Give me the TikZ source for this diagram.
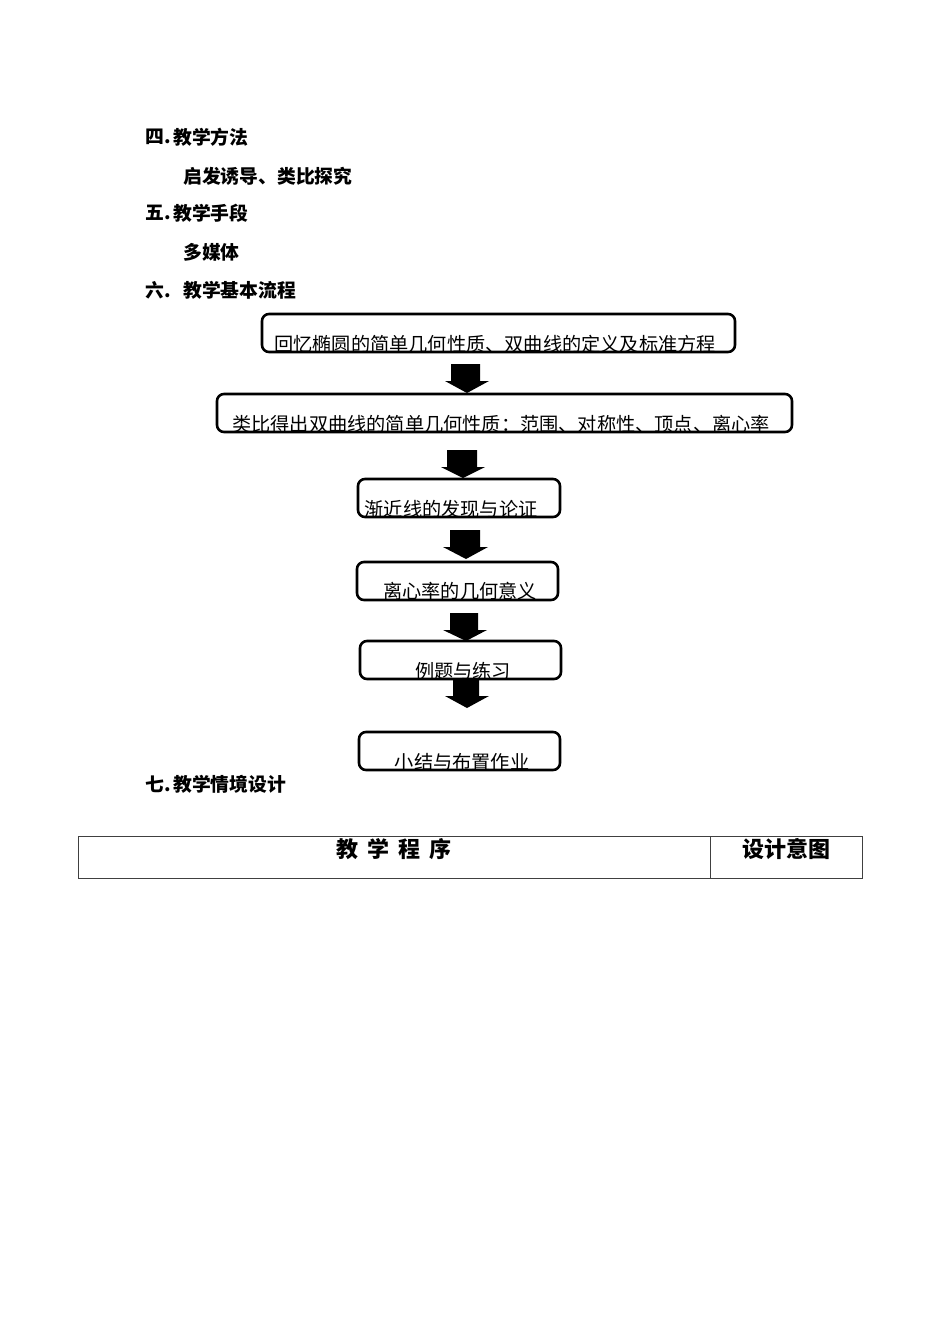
\documentclass[tikz,border=0pt]{standalone}
\usepackage{fontspec}
\newfontfamily\hei{Noto Sans CJK SC}
\tikzset{
  heading/.style={anchor=west, inner sep=0pt, font=\hei\bfseries\fontsize{18.8}{19}\selectfont},
  boxshape/.style={draw, line width=2.6pt, rounded corners=7pt, inner sep=0pt},
  boxtext/.style={inner sep=0pt, font=\hei\fontsize{19.2}{20}\selectfont},
  blockarrow/.style={fill=black, draw=none},
  tabtext/.style={inner sep=0pt, font=\hei\bfseries\fontsize{22}{22}\selectfont},
  tabline/.style={draw=black!75, line width=0.9pt}
}
\begin{document}
\begin{tikzpicture}[x=1pt,y=-1pt]
\useasboundingbox (0,0) rectangle (950,1344);
\fill[white] (0,0) rectangle (950,1344);

% headings
\node[heading] (n4) at (145,137) {四.};
\node[heading] (h4) at (173,137) {教学方法};
\node[heading] (h4b) at (183,176) {启发诱导、类比探究};
\node[heading] (n5) at (145,213) {五.};
\node[heading] (h5) at (173,213) {教学手段};
\node[heading] (h5b) at (183,252) {多媒体};
\node[heading] (n6) at (145,290) {六.};
\node[heading] (h6) at (183,290) {教学基本流程};
\node[heading] (n7) at (145,784) {七.};
\node[heading] (h7) at (173,784) {教学情境设计};

% flow boxes
\node[boxshape, minimum width=473pt, minimum height=38pt] (b1) at (498.5,333) {};
\node[boxtext] (t1) at (495,344) {回忆椭圆的简单几何性质、双曲线的定义及标准方程};
\node[boxshape, minimum width=575pt, minimum height=38pt] (b2) at (504.5,413) {};
\node[boxtext] (t2) at (501,424) {类比得出双曲线的简单几何性质：范围、对称性、顶点、离心率};
\node[boxshape, minimum width=202pt, minimum height=38pt] (b3) at (459,498) {};
\node[boxtext] (t3) at (451,509) {渐近线的发现与论证};
\node[boxshape, minimum width=201pt, minimum height=38pt] (b4) at (457.5,581) {};
\node[boxtext] (t4) at (460,591) {离心率的几何意义};
\node[boxshape, minimum width=201pt, minimum height=38pt] (b5) at (460.5,660) {};
\node[boxtext] (t5) at (463,671) {例题与练习};
\node[boxshape, minimum width=201pt, minimum height=38pt] (b6) at (459.5,751) {};
\node[boxtext] (t6) at (462,762) {小结与布置作业};

% block arrows
\fill[blockarrow] (451,364) -- (480,364) -- (480,381) -- (489,381) -- (467,393) -- (445,381) -- (451,381) -- cycle;
\fill[blockarrow] (447,450) -- (477,450) -- (477,467) -- (485,467) -- (463,478) -- (441,467) -- (447,467) -- cycle;
\fill[blockarrow] (450,530) -- (480,530) -- (480,547) -- (488,547) -- (466,559) -- (443,547) -- (450,547) -- cycle;
\fill[blockarrow] (450,613) -- (478,613) -- (478,630) -- (487,630) -- (466,641) -- (443,630) -- (450,630) -- cycle;
\fill[blockarrow] (453,679) -- (479,679) -- (479,696) -- (489,696) -- (467,708) -- (445,696) -- (453,696) -- cycle;

% table
\node[tabline, minimum width=784pt, minimum height=42pt, inner sep=0pt] (tab) at (470,857) {};
\coordinate (dtop) at (710,836);
\coordinate (dbot) at (710,878);
\draw[tabline] (dtop) -- (dbot);
\node[tabtext] (c1) at (394,849) {教\hspace{0.4em}学\hspace{0.4em}程\hspace{0.4em}序};
\node[tabtext] (c2) at (786,849) {设计意图};
\end{tikzpicture}
\end{document}
